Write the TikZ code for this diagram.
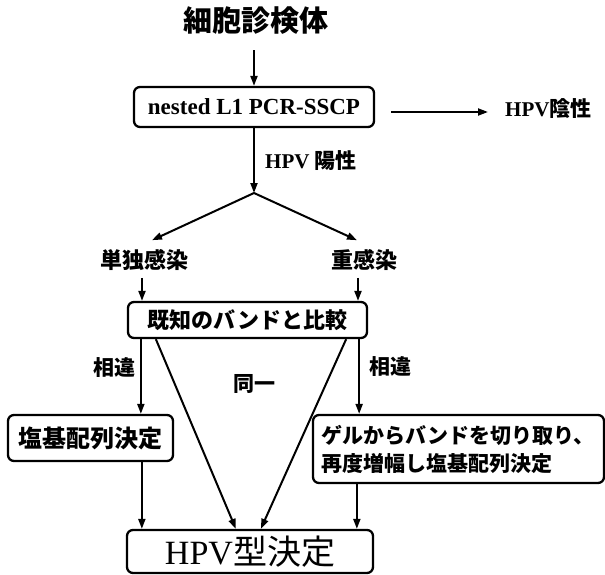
\documentclass[tikz,border=0pt]{standalone}
\usepackage{fontspec}
\setmainfont{Liberation Serif}
\newfontfamily\jp{Noto Sans CJK JP}
\usetikzlibrary{arrows.meta}
\begin{document}
\begin{tikzpicture}[x=1pt,y=-1pt,
  box/.style={draw, line width=2.3pt, rounded corners=6pt, inner sep=0pt},
  arr/.style={line width=2pt, -{Triangle[length=10pt,width=7pt]}},
  jl/.style={font=\jp\bfseries\fontsize{22}{24}\selectfont, inner sep=0pt},
  lab/.style={font=\bfseries\fontsize{21}{23}\selectfont, inner sep=0pt}
]
\useasboundingbox (0,0) rectangle (605,575);

% nodes
\node[font=\jp\bfseries\fontsize{29}{31}\selectfont, inner sep=0pt] (title) at (256,21) {細胞診検体};
\node[box, minimum width=240pt, minimum height=40pt, font=\bfseries\fontsize{23}{25}\selectfont] (pcr) at (254,107) {nested L1 PCR-SSCP};
\node[lab, anchor=west] (neg) at (505,109) {HPV{\jp 陰性}};
\node[lab, anchor=west] (pos) at (265,161) {HPV {\jp 陽性}};
\coordinate (j) at (254,193);
\node[jl] (single) at (144,260) {単独感染};
\node[jl] (multi) at (364,260) {重感染};
\node[box, jl, minimum width=239pt, minimum height=36pt] (cmp) at (247.5,320) {既知のバンドと比較};
\node[jl, font=\jp\bfseries\fontsize{21}{23}\selectfont] (d1) at (114,368) {相違};
\node[jl, font=\jp\bfseries\fontsize{21}{23}\selectfont] (d2) at (390,367) {相違};
\node[jl, font=\jp\bfseries\fontsize{21}{23}\selectfont] (same) at (254,384) {同一};
\node[box, minimum width=165pt, minimum height=46pt, font=\jp\bfseries\fontsize{24}{26}\selectfont] (seq) at (90.5,438) {塩基配列決定};
\node[box, minimum width=291pt, minimum height=68pt, text width=275pt, align=left,
      font=\jp\bfseries\fontsize{21}{28}\selectfont] (gel) at (458.5,449)
      {ゲルからバンドを切り取り、\\再度増幅し塩基配列決定};
\node[box, minimum width=246pt, minimum height=43pt, font=\fontsize{34}{36}\selectfont] (hpv) at (250,551.5) {HPV{\jp 型決定}};

% connectors
\draw[arr, shorten <=15pt] (title.south -| pcr.north) -- (pcr.north);
\coordinate (ae) at ([shift={(16pt,-5pt)}]pcr.east);
\draw[arr, shorten >=17pt] (ae) -- (ae -| neg.west);
\draw[arr] (pcr.south) -- (j);
\draw[arr] (j) -- ([shift={(8pt,9pt)}]single.north);
\draw[arr] (j) -- ([shift={(-7pt,9pt)}]multi.north);
\draw[arr, shorten <=7pt] ([xshift=-2pt]single.south) coordinate (s1) -- (s1 |- cmp.north);
\draw[arr, shorten <=7pt] ([xshift=-6pt]multi.south) coordinate (s2) -- (s2 |- cmp.north);
\draw[arr] ([xshift=14pt]cmp.south west) coordinate (c1) -- (c1 |- seq.north);
\draw[arr] ([xshift=-9pt]cmp.south east) coordinate (c2) -- (c2 |- gel.north);
\draw[arr] ([xshift=29pt]cmp.south west) -- ([xshift=110pt]hpv.north west);
\draw[arr] ([xshift=-22pt]cmp.south east) -- ([xshift=135pt]hpv.north west);
\draw[arr] ([xshift=135pt]seq.south west) coordinate (q1) -- (q1 |- hpv.north);
\draw[arr] ([xshift=45pt]gel.south west) coordinate (g1) -- (g1 |- hpv.north);
\end{tikzpicture}
\end{document}
